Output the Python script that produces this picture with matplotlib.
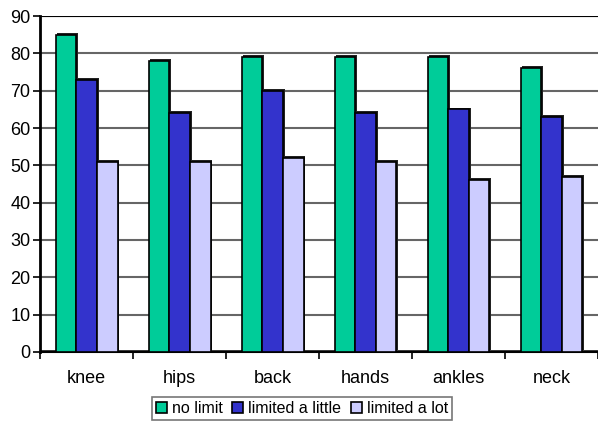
import matplotlib.pyplot as plt
import numpy as np

plt.rcParams['font.family'] = ['Liberation Sans', 'DejaVu Sans']

categories = ['knee', 'hips', 'back', 'hands', 'ankles', 'neck']
no_limit = [85, 78, 79, 79, 79, 76]
limited_little = [73, 64, 70, 64, 65, 63]
limited_lot = [51, 51, 52, 51, 46, 47]

series = [
    ('no limit', no_limit, '#00cc99'),
    ('limited a little', limited_little, '#3333cc'),
    ('limited a lot', limited_lot, '#ccccff'),
]

fig = plt.figure(figsize=(5.98, 4.23), dpi=100)
ax = fig.add_axes([0.067, 0.168, 0.933, 0.794])

x = np.arange(len(categories))
w = 0.222
dx, dy = 0.018, 0.5  # small depth offset for the 3d look

# floor edge
ax.axhline(0.3, color='black', lw=1.8, zorder=1)

for i, (name, vals, col) in enumerate(series):
    pos = x + (i - 1) * w
    ax.bar(pos + dx, vals, w, bottom=dy, color='#222222', lw=0, zorder=2)
    ax.bar(pos, vals, w, color=col, edgecolor='black', lw=1.2, zorder=3,
           label=name)

ax.set_xlim(-0.5, len(categories) - 0.5)
ax.set_ylim(0, 90)
ax.set_yticks(range(0, 91, 10))
ax.yaxis.grid(True, color='#666666', lw=1.5)
ax.axhline(90, color='black', lw=1.5, zorder=1)
ax.set_axisbelow(True)

ax.set_xticks(x)
ax.set_xticklabels(categories, fontsize=13)
ax.set_xticks(np.arange(-0.5, len(categories), 1), minor=True)
ax.tick_params(axis='x', which='major', length=0, pad=13)
ax.tick_params(axis='x', which='minor', length=5, width=1.2, direction='out')
ax.tick_params(axis='y', labelsize=13, length=5, width=1.2, pad=2)

for s in ['top', 'right']:
    ax.spines[s].set_visible(False)
ax.spines['left'].set_linewidth(2)
ax.spines['bottom'].set_linewidth(1.5)

leg = fig.legend(loc='lower center', bbox_to_anchor=(0.505, -0.012), ncol=3,
                 fontsize=11.5, frameon=True, fancybox=False, edgecolor='#555555',
                 handlelength=0.7, handleheight=0.7, handletextpad=0.3,
                 columnspacing=0.6, borderpad=0.25)
leg.get_frame().set_linewidth(1.2)

fig.savefig('out.png', dpi=100)
